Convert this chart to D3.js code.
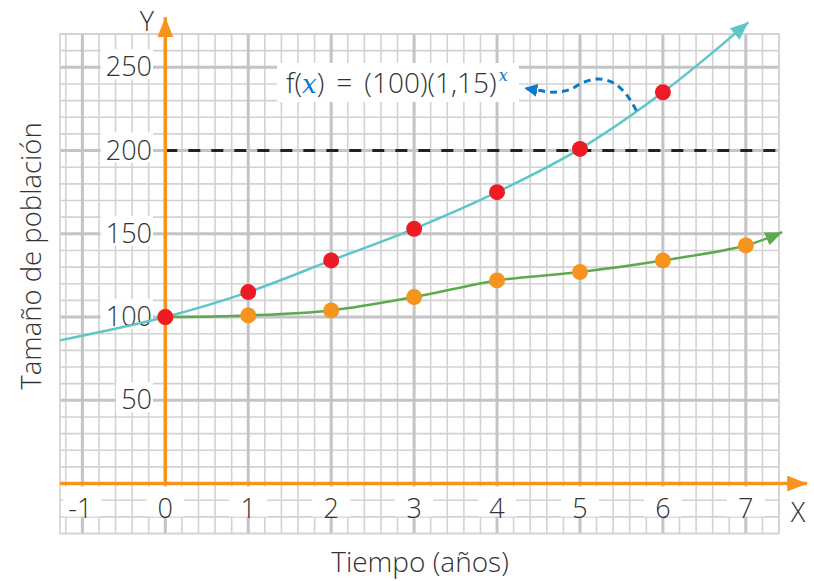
<!DOCTYPE html>
<html>
<head>
<meta charset="utf-8">
<script src="https://cdn.jsdelivr.net/npm/d3@7"></script>
<style>
  body { margin: 0; background: #fff; }
  svg { display: block; }
  text { font-family: "Open Sans", "Noto Sans", sans-serif; font-weight: 300; fill: #333; }
</style>
</head>
<body>
<svg id="chart" width="814" height="581"></svg>
<script>
// ---- data ----
const years = [0, 1, 2, 3, 4, 5, 6, 7];
const modelValues = [100, 115, 134, 153, 175, 201, 235];        // red points, years 0..6
const observedValues = [100, 101, 104, 112, 122, 127, 134, 143]; // orange points, years 0..7
const xTickLabels = ["-1", "0", "1", "2", "3", "4", "5", "6", "7"];
const yTickLabels = ["50", "100", "150", "200", "250"];
const modelLeadIn = [[-1.27, 86]];          // model curve before year 0
const modelLeadOut = [[7.03, 277]];         // model curve after year 6 (arrow tip)
const observedLeadOut = [[7.44, 151]];      // observed curve after year 7 (arrow tip)
const thresholdValue = 200;
const calloutCurve = [[5.68, 224], [5.57, 233], [5.41, 240.5], [5.22, 243], [5.04, 241],
                      [4.87, 236.5], [4.68, 235], [4.52, 236], [4.33, 237.5]];
const xDomain = [-1.27, 7.4], yDomain = [-30, 270];
const xAxisEnd = 7.74, yAxisEnd = 280;

// ---- setup ----
const svg = d3.select("#chart");
const x = d3.scaleLinear().domain(xDomain).range([60, 779]);
const y = d3.scaleLinear().domain(yDomain).range([533.5, 34]);

const ORANGE = "#F7941D", RED = "#ED1C24", TEAL = "#5CC6C8", GREEN = "#5BAA4C", BLUE = "#0A79C7";

const defs = svg.append("defs");
function arrowMarker(id, color, len, half) {
  defs.append("marker").attr("id", id)
    .attr("markerUnits", "userSpaceOnUse")
    .attr("viewBox", `0 ${-half} ${len} ${half * 2}`)
    .attr("refX", len).attr("refY", 0)
    .attr("markerWidth", len).attr("markerHeight", half * 2)
    .attr("orient", "auto")
    .append("path").attr("d", `M0,${-half}L${len},0L0,${half}Z`).attr("fill", color);
}
arrowMarker("arrTeal", TEAL, 18, 7.5);
arrowMarker("arrGreen", GREEN, 17, 7);
arrowMarker("arrOrange", ORANGE, 20, 8);
arrowMarker("arrBlue", BLUE, 13, 6.5);

// ---- grid ----
const grid = svg.append("g");
const minorX = d3.range(-1.2, 7.4 + 1e-9, 0.2).map(v => +v.toFixed(2));
const minorY = d3.range(-30, 270 + 1e-9, 10);
grid.selectAll(".vx").data(minorX).join("line")
  .attr("x1", d => x(d)).attr("x2", d => x(d))
  .attr("y1", y(yDomain[0])).attr("y2", y(yDomain[1]))
  .attr("stroke", "#d2d2d4").attr("stroke-width", 1.6);
grid.selectAll(".hy").data(minorY).join("line")
  .attr("y1", d => y(d)).attr("y2", d => y(d))
  .attr("x1", x(xDomain[0])).attr("x2", x(xDomain[1]))
  .attr("stroke", "#d2d2d4").attr("stroke-width", 1.6);
grid.selectAll(".mx").data(d3.range(-1, 8)).join("line")
  .attr("x1", d => x(d)).attr("x2", d => x(d))
  .attr("y1", y(yDomain[0])).attr("y2", y(yDomain[1]))
  .attr("stroke", "#c4c4c7").attr("stroke-width", 3);
grid.selectAll(".my").data([50, 100, 150, 200, 250]).join("line")
  .attr("y1", d => y(d)).attr("y2", d => y(d))
  .attr("x1", x(xDomain[0])).attr("x2", x(xDomain[1]))
  .attr("stroke", "#c4c4c7").attr("stroke-width", 3);
grid.append("rect")
  .attr("x", x(xDomain[0])).attr("y", y(yDomain[1]))
  .attr("width", x(xDomain[1]) - x(xDomain[0])).attr("height", y(yDomain[0]) - y(yDomain[1]))
  .attr("fill", "none").attr("stroke", "#d2d2d4").attr("stroke-width", 1.6);

// ---- tick labels on white knockouts ----
const yTicks = svg.append("g");
yTickLabels.forEach(t => {
  const v = +t;
  const w = t.length * 15.5 + 6;
  yTicks.append("rect").attr("x", 153 - w).attr("y", y(v) - 18).attr("width", w).attr("height", 30).attr("fill", "#fff");
  yTicks.append("text").attr("x", 152).attr("y", y(v) + 9).attr("text-anchor", "end")
    .attr("font-size", 27).text(t);
});
const xTicks = svg.append("g");
xTickLabels.forEach(t => {
  const v = +t;
  xTicks.append("rect").attr("x", x(v) - 19).attr("y", y(0) + 3).attr("width", 38).attr("height", 30).attr("fill", "#fff");
  xTicks.append("text").attr("x", x(v) + (v < 0 ? -2 : 0)).attr("y", y(0) + 34).attr("text-anchor", "middle")
    .attr("font-size", 27).text(t);
});

// ---- threshold line ----
svg.append("line")
  .attr("x1", x(0)).attr("x2", x(xDomain[1]))
  .attr("y1", y(thresholdValue)).attr("y2", y(thresholdValue))
  .attr("stroke", "#222").attr("stroke-width", 3).attr("stroke-dasharray", "12,11");

// ---- axes ----
svg.append("line")
  .attr("x1", x(xDomain[0])).attr("x2", x(xAxisEnd))
  .attr("y1", y(0)).attr("y2", y(0))
  .attr("stroke", ORANGE).attr("stroke-width", 3.5).attr("marker-end", "url(#arrOrange)");
svg.append("line")
  .attr("x1", x(0)).attr("x2", x(0))
  .attr("y1", y(0)).attr("y2", y(yAxisEnd))
  .attr("stroke", ORANGE).attr("stroke-width", 3.5).attr("marker-end", "url(#arrOrange)");

// ---- curves ----
const line = d3.line().x(d => x(d[0])).y(d => y(d[1])).curve(d3.curveCatmullRom.alpha(0.5));
const modelPts = modelLeadIn.concat(modelValues.map((v, i) => [years[i], v]), modelLeadOut);
const observedPts = observedValues.map((v, i) => [years[i], v]).concat(observedLeadOut);
svg.append("path").attr("d", line(modelPts))
  .attr("fill", "none").attr("stroke", TEAL).attr("stroke-width", 2.5).attr("marker-end", "url(#arrTeal)");
svg.append("path").attr("d", line(observedPts))
  .attr("fill", "none").attr("stroke", GREEN).attr("stroke-width", 2.5).attr("marker-end", "url(#arrGreen)");

// ---- points ----
svg.selectAll(".obs").data(observedValues).join("circle")
  .attr("cx", (d, i) => x(years[i])).attr("cy", d => y(d)).attr("r", 8).attr("fill", ORANGE);
svg.selectAll(".mod").data(modelValues).join("circle")
  .attr("cx", (d, i) => x(years[i])).attr("cy", d => y(d)).attr("r", 8).attr("fill", RED);

// ---- formula callout ----
svg.append("rect").attr("x", 277).attr("y", 63).attr("width", 242).attr("height", 39).attr("fill", "#fff");
const f = svg.append("text").attr("x", 286).attr("y", 93).attr("font-size", 28);
f.append("tspan").text("f(");
f.append("tspan").attr("font-family", "DejaVu Serif").attr("font-style", "italic").attr("font-weight", 400)
  .style("fill", BLUE).attr("font-size", 26).text("x");
f.append("tspan").text(")");
f.append("tspan").attr("dx", 12).text("=");
f.append("tspan").attr("dx", 12).text("(100)(1,15)");
f.append("tspan").attr("dy", -12).attr("dx", 2).attr("font-family", "DejaVu Serif").attr("font-style", "italic")
  .attr("font-weight", 400).style("fill", BLUE).attr("font-size", 16).text("x");

svg.append("path").attr("d", d3.line().x(d => x(d[0])).y(d => y(d[1])).curve(d3.curveCatmullRom)(calloutCurve))
  .attr("fill", "none").attr("stroke", BLUE).attr("stroke-width", 3).attr("stroke-dasharray", "7,5")
  .attr("marker-end", "url(#arrBlue)");

// ---- axis letters and titles ----
svg.append("text").attr("x", 147).attr("y", 31).attr("text-anchor", "middle").attr("font-size", 27).text("Y");
svg.append("text").attr("x", 798).attr("y", 522).attr("text-anchor", "middle").attr("font-size", 27).text("X");
svg.append("text").attr("x", 420).attr("y", 572).attr("text-anchor", "middle").attr("font-size", 28).text("Tiempo (años)");
svg.append("text").attr("transform", "translate(41,256) rotate(-90)").attr("text-anchor", "middle")
  .attr("font-size", 27.5).text("Tamaño de población");
</script>
</body>
</html>
